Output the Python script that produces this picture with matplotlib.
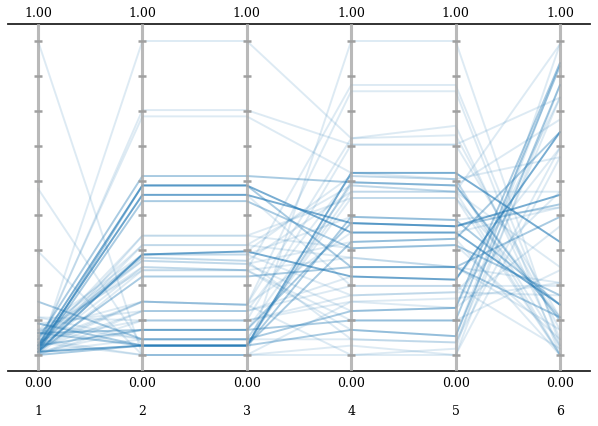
import matplotlib
matplotlib.use("Agg")
import matplotlib.pyplot as plt
import numpy as np

# normalized values on each of the six parallel axes (one entry per record)
axis1 = [1.00, 0.00, 0.02, 0.03, 0.05, 0.03, 0.02, 0.01, 0.00, 0.05, 0.01, 0.03, 0.03, 0.04, 0.06,
         0.07, 0.01, 0.08, 0.10, 0.12, 0.07, 0.17, 0.53, 0.33, 0.00, 0.01, 0.03, 0.05, 0.02, 0.03,
         0.00, 0.08, 0.10, 0.01, 0.04, 0.07, 0.02, 0.00, 0.05, 0.03, 0.01, 0.03, 0.06, 0.02, 0.00,
         0.07, 0.01, 0.02, 0.12, 0.10, 0.08, 0.04, 0.01]
axis2 = [0.00, 1.00, 0.78, 0.76, 0.57, 0.54, 0.51, 0.49, 0.38, 0.35, 0.32, 0.32, 0.31, 0.30, 0.28,
         0.27, 0.25, 0.17, 0.14, 0.11, 0.08, 0.05, 0.03, 0.00, 0.03, 0.05, 0.08, 0.00, 0.14, 0.17,
         0.11, 0.03, 0.05, 0.08, 0.00, 0.03, 0.17, 0.14, 0.11, 0.38, 0.35, 0.32, 0.30, 0.28, 0.27,
         0.31, 0.54, 0.51, 0.05, 0.03, 0.32, 0.17, 0.03]
axis3 = [0.00, 1.00, 0.78, 0.76, 0.57, 0.54, 0.51, 0.49, 0.38, 0.35, 0.33, 0.32, 0.30, 0.29, 0.27,
         0.27, 0.25, 0.16, 0.14, 0.11, 0.08, 0.05, 0.03, 0.00, 0.03, 0.05, 0.08, 0.00, 0.14, 0.16,
         0.11, 0.03, 0.05, 0.08, 0.00, 0.03, 0.16, 0.14, 0.11, 0.38, 0.35, 0.32, 0.29, 0.27, 0.27,
         0.30, 0.54, 0.51, 0.05, 0.03, 0.33, 0.16, 0.03]
axis4 = [0.17, 0.69, 0.67, 0.58, 0.55, 0.39, 0.42, 0.34, 0.50, 0.54, 0.25, 0.44, 0.52, 0.36, 0.31,
         0.86, 0.28, 0.84, 0.22, 0.19, 0.42, 0.14, 0.55, 0.00, 0.08, 0.05, 0.11, 0.03, 0.57, 0.69,
         0.67, 0.55, 0.50, 0.54, 1.00, 0.44, 0.39, 0.25, 0.17, 0.34, 0.31, 0.19, 0.14, 0.11, 0.08,
         0.05, 0.28, 0.22, 0.52, 0.36, 0.57, 0.00, 0.58]
axis5 = [0.15, 0.70, 0.67, 0.56, 0.54, 0.39, 0.41, 0.35, 0.50, 0.52, 0.24, 0.43, 0.52, 0.37, 0.28,
         0.86, 0.28, 0.84, 0.22, 0.20, 0.41, 0.15, 0.54, 0.02, 0.06, 0.04, 0.11, 0.00, 0.56, 0.73,
         0.67, 0.54, 0.50, 0.52, 1.00, 0.43, 0.39, 0.24, 0.18, 0.35, 0.28, 0.20, 0.15, 0.11, 0.06,
         0.04, 0.28, 0.22, 0.52, 0.37, 0.56, 0.00, 0.58]
axis6 = [0.82, 0.08, 0.12, 0.03, 0.11, 0.16, 0.51, 0.19, 0.00, 0.28, 0.71, 0.47, 0.52, 0.00, 0.23,
         0.05, 0.44, 0.00, 0.22, 0.19, 0.48, 0.93, 0.12, 0.99, 0.86, 0.66, 0.92, 0.63, 0.00, 0.02,
         0.82, 0.75, 0.12, 0.00, 0.03, 0.16, 0.47, 0.66, 0.23, 0.05, 0.08, 0.52, 0.41, 0.27, 0.93,
         0.82, 0.12, 0.02, 0.99, 0.71, 0.63, 0.86, 0.36]
# emphasis level of each record (0 = faint, 1 = medium, 2 = strong)
emphasis = [0, 0, 0, 0, 1, 2, 2, 1, 0, 0, 2, 0, 0, 0, 0,
            0, 1, 0, 0, 0, 1, 1, 0, 0, 1, 0, 1, 0, 0, 0,
            0, 0, 0, 0, 0, 1, 0, 0, 0, 0, 0, 0, 0, 0, 0,
            0, 1, 0, 0, 1, 0, 0, 2]
axis_labels = ["1", "2", "3", "4", "5", "6"]
top_labels = ["1.00"] * 6
bottom_labels = ["0.00"] * 6

columns = np.array([axis1, axis2, axis3, axis4, axis5, axis6])
xs = np.arange(len(axis_labels))
alphas = {0: 0.15, 1: 0.38, 2: 0.6}

fig = plt.figure(figsize=(5.98, 4.27), dpi=100)
ax = fig.add_axes([8 / 598, 1 - 372 / 427, 582 / 598, 347 / 427])

for j in range(columns.shape[1]):
    ax.plot(xs, columns[:, j], color="#1f77b4", lw=1.4, alpha=alphas[emphasis[j]],
            solid_capstyle="round", zorder=2)

ticks = np.linspace(0, 1, 10)
for x in xs:
    ax.axvline(x, color="#a8a8a8", lw=2.2, alpha=0.8, zorder=3)
    ax.plot([x] * len(ticks), ticks, ls="none", marker="_", ms=5.8, mew=1.8,
            color="#a0a0a0", zorder=4)
    ax.annotate(top_labels[x], xy=(x, 1), xycoords=("data", "axes fraction"),
                xytext=(0, 8.2), textcoords="offset points", ha="center", va="center",
                fontsize=9, family="DejaVu Serif")
    ax.annotate(bottom_labels[x], xy=(x, 0), xycoords=("data", "axes fraction"),
                xytext=(0, -8.6), textcoords="offset points", ha="center", va="center",
                fontsize=9, family="DejaVu Serif")
    ax.annotate(axis_labels[x], xy=(x, 0), xycoords=("data", "axes fraction"),
                xytext=(0, -28.2), textcoords="offset points", ha="center", va="center",
                fontsize=9, family="DejaVu Serif")

ax.set_xlim(-30 / 104.4, 5 + 30 / 104.4)
ax.set_ylim(-16 / 314, 1 + 17 / 314)
ax.set_xticks([])
ax.set_yticks([])
for side in ("left", "right"):
    ax.spines[side].set_visible(False)
for side in ("top", "bottom"):
    ax.spines[side].set_linewidth(1.3)
    ax.spines[side].set_color("#222222")

fig.savefig("out.png", dpi=100)
